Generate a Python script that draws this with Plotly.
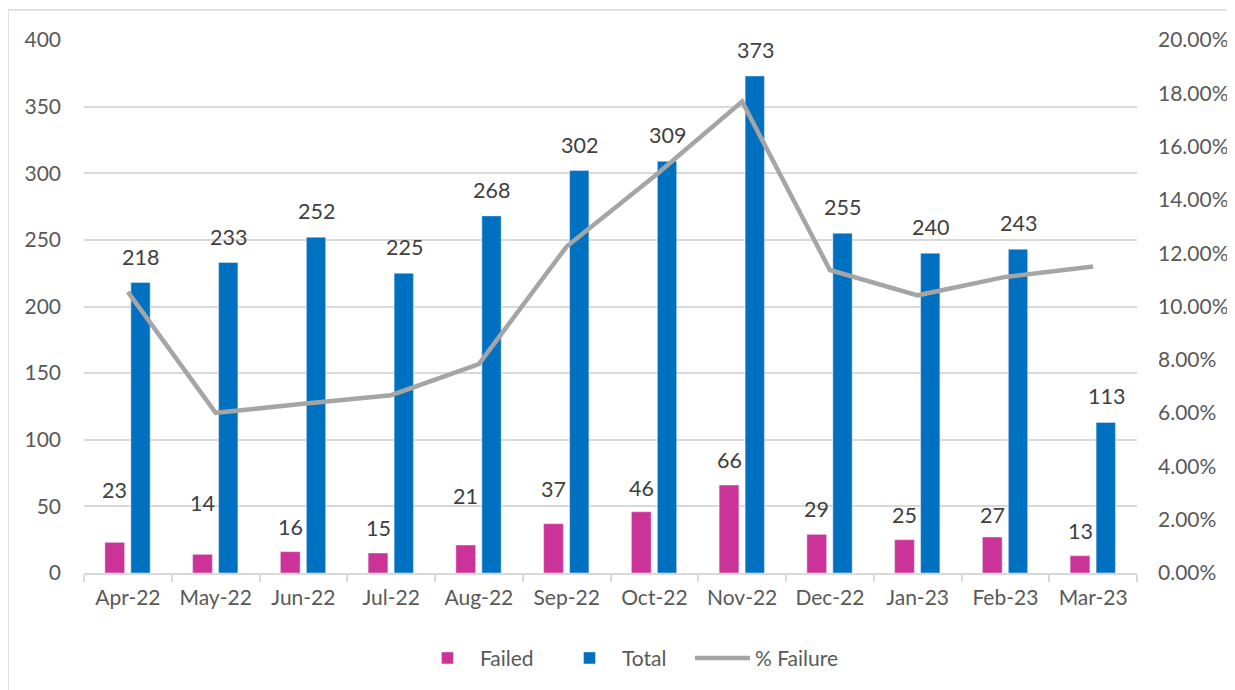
import plotly.graph_objects as go

months = ["Apr-22", "May-22", "Jun-22", "Jul-22", "Aug-22", "Sep-22",
          "Oct-22", "Nov-22", "Dec-22", "Jan-23", "Feb-23", "Mar-23"]
failed = [23, 14, 16, 15, 21, 37, 46, 66, 29, 25, 27, 13]
total = [218, 233, 252, 225, 268, 302, 309, 373, 255, 240, 243, 113]
pct_failure = [0.1055, 0.0601, 0.0635, 0.0667, 0.0784, 0.1225,
               0.1489, 0.1769, 0.1137, 0.1042, 0.1111, 0.1150]

FONT = "Lato"
TICK_COLOR = "#595959"
LABEL_COLOR = "#404040"
GRID = "#D9D9D9"
TICK_SIZE = 21
LABEL_SIZE = 21.5
# pixel lift of each "Failed" data label above its bar (labels were hand-placed)
failed_label_lift = [52, 51, 25, 25, 49, 35, 24, 25, 25, 25, 22, 25]

fig = go.Figure()
fig.add_trace(go.Bar(x=months, y=failed, name="Failed", marker_color="#CC3399",
                     width=0.225, offset=-0.262, hoverinfo="x+y", legend="legend"))
fig.add_trace(go.Bar(x=months, y=total, name="Total", marker_color="#0070C0",
                     width=0.22, offset=0.034, hoverinfo="x+y", legend="legend2"))
fig.add_trace(go.Scatter(x=months, y=pct_failure, name="% Failure", yaxis="y2",
                         mode="lines", line=dict(color="#A5A5A5", width=4.5),
                         legend="legend3"))

annotations = []
for m, v, lift in zip(months, failed, failed_label_lift):
    annotations.append(dict(x=m, y=v, xref="x", yref="y", text=str(v), showarrow=False,
                            xshift=-13, yshift=lift, yanchor="middle",
                            font=dict(family=FONT, size=LABEL_SIZE, color=LABEL_COLOR)))
for m, v in zip(months, total):
    annotations.append(dict(x=m, y=v, xref="x", yref="y", text=str(v), showarrow=False,
                            xshift=13, yshift=26, yanchor="middle",
                            font=dict(family=FONT, size=LABEL_SIZE, color=LABEL_COLOR)))

legend_style = dict(orientation="h", xanchor="left", y=-0.16, yanchor="middle",
                    font=dict(family=FONT, size=TICK_SIZE, color=TICK_COLOR),
                    itemwidth=55, bgcolor="rgba(0,0,0,0)")

fig.update_layout(
    width=1227, height=682,
    margin=dict(l=76, r=98, t=32, b=117, autoexpand=False),
    paper_bgcolor="white", plot_bgcolor="white",
    font=dict(family=FONT, size=TICK_SIZE, color=TICK_COLOR),
    barmode="group",
    showlegend=True,
    legend=dict(x=0.3143, **legend_style),
    legend2=dict(x=0.4492, **legend_style),
    legend3=dict(x=0.5755, **legend_style),
    xaxis=dict(showgrid=False, showline=True, linecolor=GRID, linewidth=1.5,
               ticks="outside", tickson="boundaries", tickcolor=GRID, ticklen=7,
               tickwidth=1.5, automargin=False, ticklabelstandoff=5,
               tickfont=dict(family=FONT, size=TICK_SIZE, color=TICK_COLOR)),
    yaxis=dict(range=[0, 400], dtick=50, showgrid=True, gridcolor=GRID, gridwidth=1.5,
               zeroline=False, showline=False, ticks="", ticklabelstandoff=22,
               automargin=False,
               tickfont=dict(family=FONT, size=TICK_SIZE, color=TICK_COLOR)),
    yaxis2=dict(range=[0, 0.2], dtick=0.02, tickformat=".2%", overlaying="y", side="right",
                showgrid=False, zeroline=False, showline=False, ticks="",
                ticklabelstandoff=20, automargin=False,
                tickfont=dict(family=FONT, size=TICK_SIZE, color=TICK_COLOR)),
    annotations=annotations,
    shapes=[dict(type="rect", xref="paper", yref="paper",
                 x0=-0.0722, x1=1.2, y0=-0.5, y1=1.0563,
                 line=dict(color="#D9D9D9", width=1.5), fillcolor="rgba(0,0,0,0)",
                 layer="below")],
)

fig.write_html("out.html")
